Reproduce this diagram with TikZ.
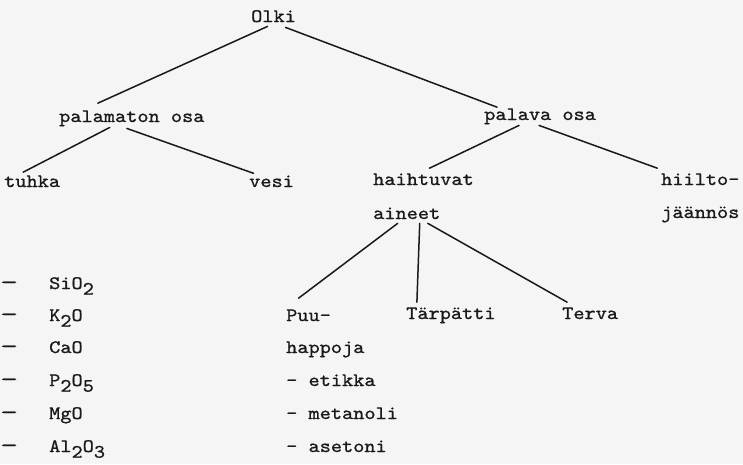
\documentclass[tikz,border=0pt]{standalone}
\usepackage{fontspec}
\usepackage{graphicx}
\usepackage{tikz}
\newfontfamily\typew[FakeStretch=1.12,FakeBold=0.9]{lmmono10-regular.otf}
\newcommand\lowdig[1]{\raisebox{-0.3em}{#1}}
\newcommand\listdash{\scalebox{1.6}[1.15]{–}}

\begin{document}
\begin{tikzpicture}[
    x=1pt, y=-1pt,
    word/.style={font=\typew\fontsize{19}{22}\selectfont, text=black!90, inner sep=0pt, anchor=base west},
    branch/.style={line width=1.5pt, line cap=round, black!90}
]
    \fill [black!4] (0,0) rectangle (743,464);
    \useasboundingbox (0,0) rectangle (743,464);

    \node [word] (olki) at (251,22) {Olki};

    \node [word] (palamaton) at (59,122) {palamaton osa};
    \node [word] (palava) at (484,120) {palava osa};

    \node [word] (tuhka) at (4,187) {tuhka};
    \node [word] (vesi) at (249,187) {vesi};
    \node [word] (haihtuvat) at (373,185) {haihtuvat};
    \node [word] (aineet) at (373,219) {aineet};
    \node [word] (hiilto) at (661,185) {hiilto–};
    \node [word] (jaannos) at (661,218) {jäännös};

    \node [word] (puu) at (286,321) {Puu–};
    \node [word] (happoja) at (286,353) {happoja};
    \node [word] (etikka) at (286,386) {– etikka};
    \node [word] (metanoli) at (286,419) {– metanoli};
    \node [word] (asetoni) at (286,452) {– asetoni};
    \node [word] (tarpatti) at (406,319) {Tärpätti};
    \node [word] (terva) at (562,319) {Terva};

    % tuhkan koostumus
    \node [word] (viiva1) at (0,289) {\listdash};
    \node [word] (viiva2) at (0,321) {\listdash};
    \node [word] (viiva3) at (0,353) {\listdash};
    \node [word] (viiva4) at (0,386) {\listdash};
    \node [word] (viiva5) at (0,419) {\listdash};
    \node [word] (viiva6) at (0,452) {\listdash};
    \node [word] (sio) at (49,289) {SiO\lowdig{2}};
    \node [word] (ko) at (49,321) {K\lowdig{2}O};
    \node [word] (cao) at (49,353) {CaO};
    \node [word] (po) at (49,386) {P\lowdig{2}O\lowdig{5}};
    \node [word] (mgo) at (49,419) {MgO};
    \node [word] (alo) at (49,452) {Al\lowdig{2}O\lowdig{3}};

    \draw [branch] ([xshift=-6pt,yshift=-4pt]olki.south) -- ([xshift=-34pt,yshift=7pt]palamaton.north);
    \draw [branch] ([xshift=12pt,yshift=-5pt]olki.south) -- ([xshift=-43pt,yshift=1pt]palava.north);
    \draw [branch] ([xshift=-22pt,yshift=-1pt]palamaton.south) -- ([xshift=-9pt,yshift=3pt]tuhka.north);
    \draw [branch] ([xshift=-5pt,yshift=-2pt]palamaton.south) -- ([xshift=-18pt,yshift=2pt]vesi.north);
    \draw [branch] ([xshift=-21pt,yshift=-1pt]palava.south) -- ([xshift=6pt,yshift=5pt]haihtuvat.north);
    \draw [branch] ([xshift=-1pt,yshift=-1pt]palava.south) -- ([xshift=-43pt,yshift=5pt]hiilto.north);
    \draw [branch] ([xshift=-9pt,yshift=-4pt]aineet.south) -- ([xshift=-10pt,yshift=11pt]puu.north);
    \draw [branch] ([xshift=13pt,yshift=-4pt]aineet.south) -- ([xshift=-34pt,yshift=5pt]tarpatti.north);
    \draw [branch] ([xshift=21pt,yshift=-4pt]aineet.south) -- ([xshift=-23pt,yshift=5pt]terva.north);
\end{tikzpicture}
\end{document}
